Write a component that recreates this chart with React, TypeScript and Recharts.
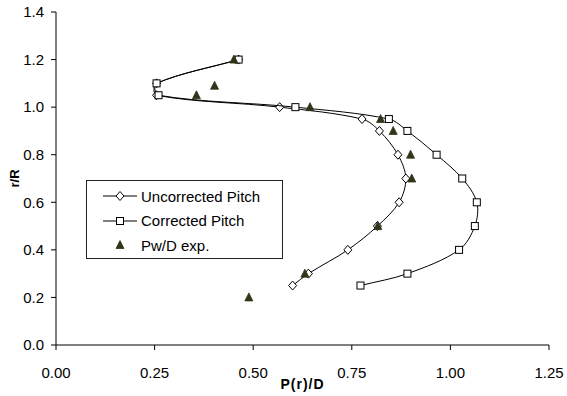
import React from "react"
import {
  ScatterChart,
  Scatter,
  XAxis,
  YAxis,
  Legend,
} from "recharts"

// r/R stations along the blade
const radii = [0.25, 0.3, 0.4, 0.5, 0.6, 0.7, 0.8, 0.9, 0.95, 1.0, 1.05, 1.1, 1.2]
const uncorrectedPitch = [0.6, 0.64, 0.74, 0.815, 0.87, 0.887, 0.867, 0.82, 0.776, 0.567, 0.255, 0.255, 0.463]
const correctedPitch = [0.772, 0.891, 1.022, 1.062, 1.067, 1.03, 0.965, 0.891, 0.844, 0.607, 0.26, 0.255, 0.463]

// measured Pw/D
const expRadii = [0.2, 0.3, 0.5, 0.7, 0.8, 0.9, 0.95, 1.0, 1.05, 1.09, 1.2]
const expPitch = [0.489, 0.631, 0.816, 0.902, 0.899, 0.855, 0.823, 0.644, 0.356, 0.402, 0.451]

const xTicks = [0, 0.25, 0.5, 0.75, 1.0, 1.25]
const yTicks = [0, 0.2, 0.4, 0.6, 0.8, 1.0, 1.2, 1.4]

const FONT = '"Liberation Sans", Arial, sans-serif'
const TRI_FILL = "#33331a"

const toPoints = (xs: number[], ys: number[]) => xs.map((x, i) => ({ x, y: ys[i] }))

const uncorrectedData = toPoints(uncorrectedPitch, radii)
const correctedData = toPoints(correctedPitch, radii)
const expData = toPoints(expPitch, expRadii)

const dist = (a: number[], b: number[]) => Math.hypot(b[0] - a[0], b[1] - a[1])

// spreadsheet-style smoothed line: cubic bezier with tangents taken from the
// neighbours, scaled by segment length so short segments don't bulge
function smoothCurve(context: any) {
  let pts: number[][] = []
  return {
    areaStart() {},
    areaEnd() {},
    lineStart() {
      pts = []
    },
    point(x: number, y: number) {
      pts.push([+x, +y])
    },
    lineEnd() {
      if (!pts.length) return
      context.moveTo(pts[0][0], pts[0][1])
      for (let i = 0; i < pts.length - 1; i++) {
        const p0 = pts[i - 1] || pts[i]
        const p1 = pts[i]
        const p2 = pts[i + 1]
        const p3 = pts[i + 2] || p2
        const d01 = dist(p0, p1)
        const d12 = dist(p1, p2)
        const d23 = dist(p2, p3)
        const k1 = d12 / (d01 + d12 || 1) / 3
        const k2 = d12 / (d12 + d23 || 1) / 3
        context.bezierCurveTo(
          p1[0] + (p2[0] - p0[0]) * k1,
          p1[1] + (p2[1] - p0[1]) * k1,
          p2[0] - (p3[0] - p1[0]) * k2,
          p2[1] - (p3[1] - p1[1]) * k2,
          p2[0],
          p2[1]
        )
      }
    },
  }
}

const DiamondMark = ({ cx, cy }: any) => (
  <polygon
    points={`${cx},${cy - 4.5} ${cx + 4},${cy} ${cx},${cy + 4.5} ${cx - 4},${cy}`}
    fill="#fff"
    stroke="#000"
    strokeWidth={1}
  />
)

const SquareMark = ({ cx, cy }: any) => (
  <rect x={cx - 3.5} y={cy - 3.5} width={7} height={7} fill="#fff" stroke="#000" strokeWidth={1} />
)

const TriangleMark = ({ cx, cy }: any) => (
  <polygon
    points={`${cx},${cy - 4.5} ${cx + 4},${cy + 3.5} ${cx - 4},${cy + 3.5}`}
    fill={TRI_FILL}
    stroke={TRI_FILL}
    strokeWidth={0.8}
  />
)

const legendRows = [
  { name: "Uncorrected Pitch", kind: "diamond" },
  { name: "Corrected Pitch", kind: "square" },
  { name: "Pw/D exp.", kind: "triangle" },
]

function PitchLegend() {
  return (
    <div
      style={{
        width: 195,
        height: 77,
        border: "1px solid #222",
        background: "#fff",
        fontFamily: FONT,
        fontSize: 15,
        color: "#000",
        position: "relative",
      }}
    >
      {legendRows.map((row, i) => (
        <div
          key={row.name}
          style={{ position: "absolute", left: 0, top: 3 + i * 24.5, height: 24, display: "flex", alignItems: "center" }}
        >
          <svg width={52} height={24} style={{ display: "block" }}>
            {row.kind !== "triangle" && <line x1={16} y1={12} x2={50} y2={12} stroke="#000" strokeWidth={1} />}
            {row.kind === "diamond" && <DiamondMark cx={33} cy={12} />}
            {row.kind === "square" && <SquareMark cx={33} cy={12} />}
            {row.kind === "triangle" && <TriangleMark cx={33} cy={12} />}
          </svg>
          <span style={{ marginLeft: 2, whiteSpace: "nowrap" }}>{row.name}</span>
        </div>
      ))}
    </div>
  )
}

export default function App() {
  return (
    <div style={{ position: "absolute", left: 0, top: 0, background: "#fff" }}>
      <ScatterChart width={567} height={396} margin={{ top: 12, right: 18, bottom: 0, left: 0 }}>
        <XAxis
          type="number"
          dataKey="x"
          domain={[0, 1.25]}
          ticks={xTicks}
          tickFormatter={(v: number) => v.toFixed(2)}
          tickSize={5}
          tickMargin={17}
          height={51}
          stroke="#000"
          tick={{ fill: "#000", fontSize: 15, fontFamily: FONT }}
          label={{
            value: "P(r)/D",
            position: "insideBottom",
            offset: 7,
            style: { fontSize: 14, fontWeight: "bold", fontFamily: FONT, fill: "#000", letterSpacing: 1 },
          }}
        />
        <YAxis
          type="number"
          dataKey="y"
          domain={[0, 1.4]}
          ticks={yTicks}
          tickFormatter={(v: number) => v.toFixed(1)}
          tickSize={5}
          tickMargin={7}
          width={56}
          stroke="#000"
          tick={{ fill: "#000", fontSize: 15, fontFamily: FONT }}
          label={{
            value: "r/R",
            angle: -90,
            position: "center",
            dx: -14,
            style: { fontSize: 13, fontWeight: "bold", fontFamily: FONT, fill: "#000" },
          }}
        />
        {/* middle/center alignment keeps the legend from shrinking the plot area */}
        <Legend
          layout="horizontal"
          verticalAlign="middle"
          align="center"
          content={() => <PitchLegend />}
          wrapperStyle={{ left: 86, top: 180, width: 197, height: 79 }}
        />
        <Scatter
          name="Uncorrected Pitch"
          data={uncorrectedData}
          line={{ stroke: "#000", strokeWidth: 1 }}
          lineJointType={smoothCurve as any}
          shape={DiamondMark}
          isAnimationActive={false}
        />
        <Scatter
          name="Corrected Pitch"
          data={correctedData}
          line={{ stroke: "#000", strokeWidth: 1 }}
          lineJointType={smoothCurve as any}
          shape={SquareMark}
          isAnimationActive={false}
        />
        <Scatter
          name="Pw/D exp."
          data={expData}
          shape={TriangleMark}
          isAnimationActive={false}
        />
      </ScatterChart>
    </div>
  )
}
